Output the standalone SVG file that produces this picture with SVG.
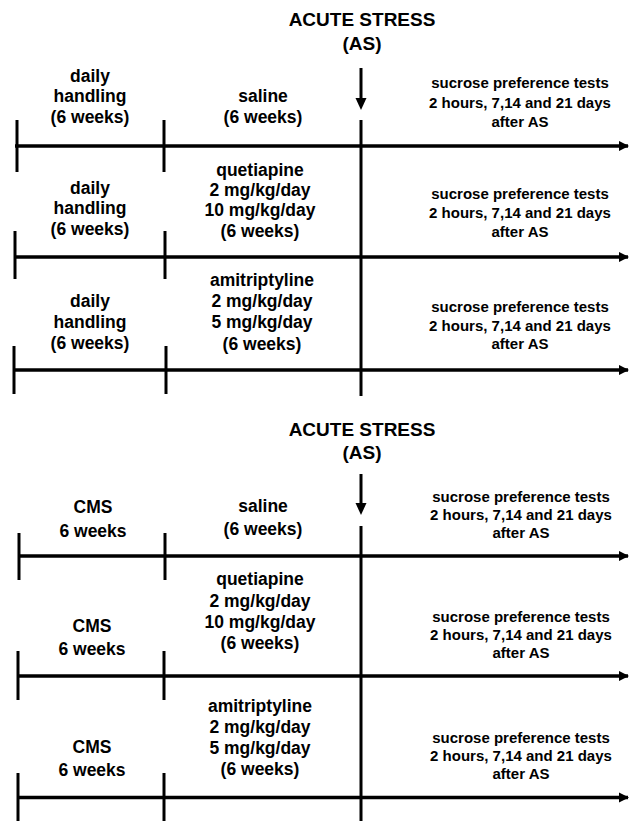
<svg xmlns="http://www.w3.org/2000/svg" width="637" height="821" viewBox="0 0 637 821">
<defs>
<style>
text{font-family:"Liberation Sans",Arial,sans-serif;font-weight:bold;fill:#000;text-anchor:middle}
.h{font-size:19px}
.l{font-size:17.5px}
.r{font-size:15px}
.tl{stroke:#000;stroke-width:3.5;fill:none}
.tk{stroke:#000;stroke-width:3;fill:none}
.as{stroke:#000;stroke-width:3;fill:none}
.ah{fill:#000;stroke:none}
</style>
<marker id="arr" viewBox="0 0 10 10" refX="9" refY="5" markerWidth="3" markerHeight="3" orient="auto" markerUnits="strokeWidth">
<path d="M0,0 L10,5 L0,10 z" class="ah"/>
</marker>
</defs>
<rect width="637" height="821" fill="#fff"/>

<g id="connectors">
<!-- top section -->
<line class="as" x1="361" y1="68" x2="361" y2="99"/>
<polygon class="ah" points="355.5,98 366.5,98 361,110"/>
<line class="as" x1="361" y1="120" x2="361" y2="396"/>
<line class="tl" x1="15" y1="146" x2="628" y2="146" marker-end="url(#arr)"/>
<line class="tl" x1="15" y1="257" x2="628" y2="257" marker-end="url(#arr)"/>
<line class="tl" x1="13" y1="370" x2="628" y2="370" marker-end="url(#arr)"/>
<line class="tk" x1="17" y1="120" x2="17" y2="172"/>
<line class="tk" x1="164" y1="120" x2="164" y2="172"/>
<line class="tk" x1="15" y1="231" x2="15" y2="279"/>
<line class="tk" x1="165" y1="231" x2="165" y2="279"/>
<line class="tk" x1="14" y1="346" x2="14" y2="394"/>
<line class="tk" x1="166" y1="346" x2="166" y2="394"/>
<!-- bottom section -->
<line class="as" x1="361" y1="474" x2="361" y2="504"/>
<polygon class="ah" points="355.5,503 366.5,503 361,515"/>
<line class="as" x1="361" y1="526" x2="361" y2="821"/>
<line class="tl" x1="18" y1="556" x2="628" y2="556" marker-end="url(#arr)"/>
<line class="tl" x1="17" y1="676" x2="628" y2="676" marker-end="url(#arr)"/>
<line class="tl" x1="17" y1="797.5" x2="628" y2="797.5" marker-end="url(#arr)"/>
<line class="tk" x1="19" y1="533" x2="19" y2="580"/>
<line class="tk" x1="165" y1="533" x2="165" y2="580"/>
<line class="tk" x1="18" y1="651" x2="18" y2="700"/>
<line class="tk" x1="164" y1="651" x2="164" y2="700"/>
<line class="tk" x1="18" y1="773" x2="18" y2="821"/>
<line class="tk" x1="164" y1="773" x2="164" y2="821"/>
</g>

<g id="as-top">
<text class="h" x="362" y="26">ACUTE STRESS</text>
<text class="h" x="362" y="50">(AS)</text>
</g>
<g id="handling-1">
<text class="l" x="90" y="81.5">daily</text>
<text class="l" x="90" y="102">handling</text>
<text class="l" x="90" y="123">(6 weeks)</text>
</g>
<g id="saline-1">
<text class="l" x="263" y="102">saline</text>
<text class="l" x="263" y="123">(6 weeks)</text>
</g>
<g id="tests-1">
<text class="r" x="520" y="88">sucrose preference tests</text>
<text class="r" x="520" y="107.5">2 hours, 7,14 and 21 days</text>
<text class="r" x="520" y="127">after AS</text>
</g>
<g id="handling-2">
<text class="l" x="90" y="193.5">daily</text>
<text class="l" x="90" y="214">handling</text>
<text class="l" x="90" y="235">(6 weeks)</text>
</g>
<g id="quetiapine-1">
<text class="l" x="260" y="176">quetiapine</text>
<text class="l" x="260" y="196">2 mg/kg/day</text>
<text class="l" x="260" y="216">10 mg/kg/day</text>
<text class="l" x="260" y="236.5">(6 weeks)</text>
</g>
<g id="tests-2">
<text class="r" x="520" y="198.5">sucrose preference tests</text>
<text class="r" x="520" y="217.5">2 hours, 7,14 and 21 days</text>
<text class="r" x="520" y="236.5">after AS</text>
</g>
<g id="handling-3">
<text class="l" x="90" y="306.5">daily</text>
<text class="l" x="90" y="327.5">handling</text>
<text class="l" x="90" y="349">(6 weeks)</text>
</g>
<g id="amitriptyline-1">
<text class="l" x="262" y="286">amitriptyline</text>
<text class="l" x="262" y="307">2 mg/kg/day</text>
<text class="l" x="262" y="328">5 mg/kg/day</text>
<text class="l" x="262" y="349.5">(6 weeks)</text>
</g>
<g id="tests-3">
<text class="r" x="520" y="311.5">sucrose preference tests</text>
<text class="r" x="520" y="330.5">2 hours, 7,14 and 21 days</text>
<text class="r" x="520" y="349">after AS</text>
</g>

<g id="as-bottom">
<text class="h" x="362" y="436">ACUTE STRESS</text>
<text class="h" x="362" y="459">(AS)</text>
</g>
<g id="cms-1">
<text class="l" x="93" y="513">CMS</text>
<text class="l" x="93" y="537">6 weeks</text>
</g>
<g id="saline-2">
<text class="l" x="263" y="512">saline</text>
<text class="l" x="263" y="535">(6 weeks)</text>
</g>
<g id="tests-4">
<text class="r" x="521" y="502">sucrose preference tests</text>
<text class="r" x="521" y="520">2 hours, 7,14 and 21 days</text>
<text class="r" x="521" y="538">after AS</text>
</g>
<g id="cms-2">
<text class="l" x="92" y="632">CMS</text>
<text class="l" x="92" y="655">6 weeks</text>
</g>
<g id="quetiapine-2">
<text class="l" x="260" y="585">quetiapine</text>
<text class="l" x="260" y="606.5">2 mg/kg/day</text>
<text class="l" x="260" y="628">10 mg/kg/day</text>
<text class="l" x="260" y="649">(6 weeks)</text>
</g>
<g id="tests-5">
<text class="r" x="521" y="622">sucrose preference tests</text>
<text class="r" x="521" y="640">2 hours, 7,14 and 21 days</text>
<text class="r" x="521" y="658">after AS</text>
</g>
<g id="cms-3">
<text class="l" x="92" y="753">CMS</text>
<text class="l" x="92" y="776">6 weeks</text>
</g>
<g id="amitriptyline-2">
<text class="l" x="260" y="712">amitriptyline</text>
<text class="l" x="260" y="733">2 mg/kg/day</text>
<text class="l" x="260" y="754">5 mg/kg/day</text>
<text class="l" x="260" y="775">(6 weeks)</text>
</g>
<g id="tests-6">
<text class="r" x="521" y="743">sucrose preference tests</text>
<text class="r" x="521" y="761">2 hours, 7,14 and 21 days</text>
<text class="r" x="521" y="779">after AS</text>
</g>
</svg>
